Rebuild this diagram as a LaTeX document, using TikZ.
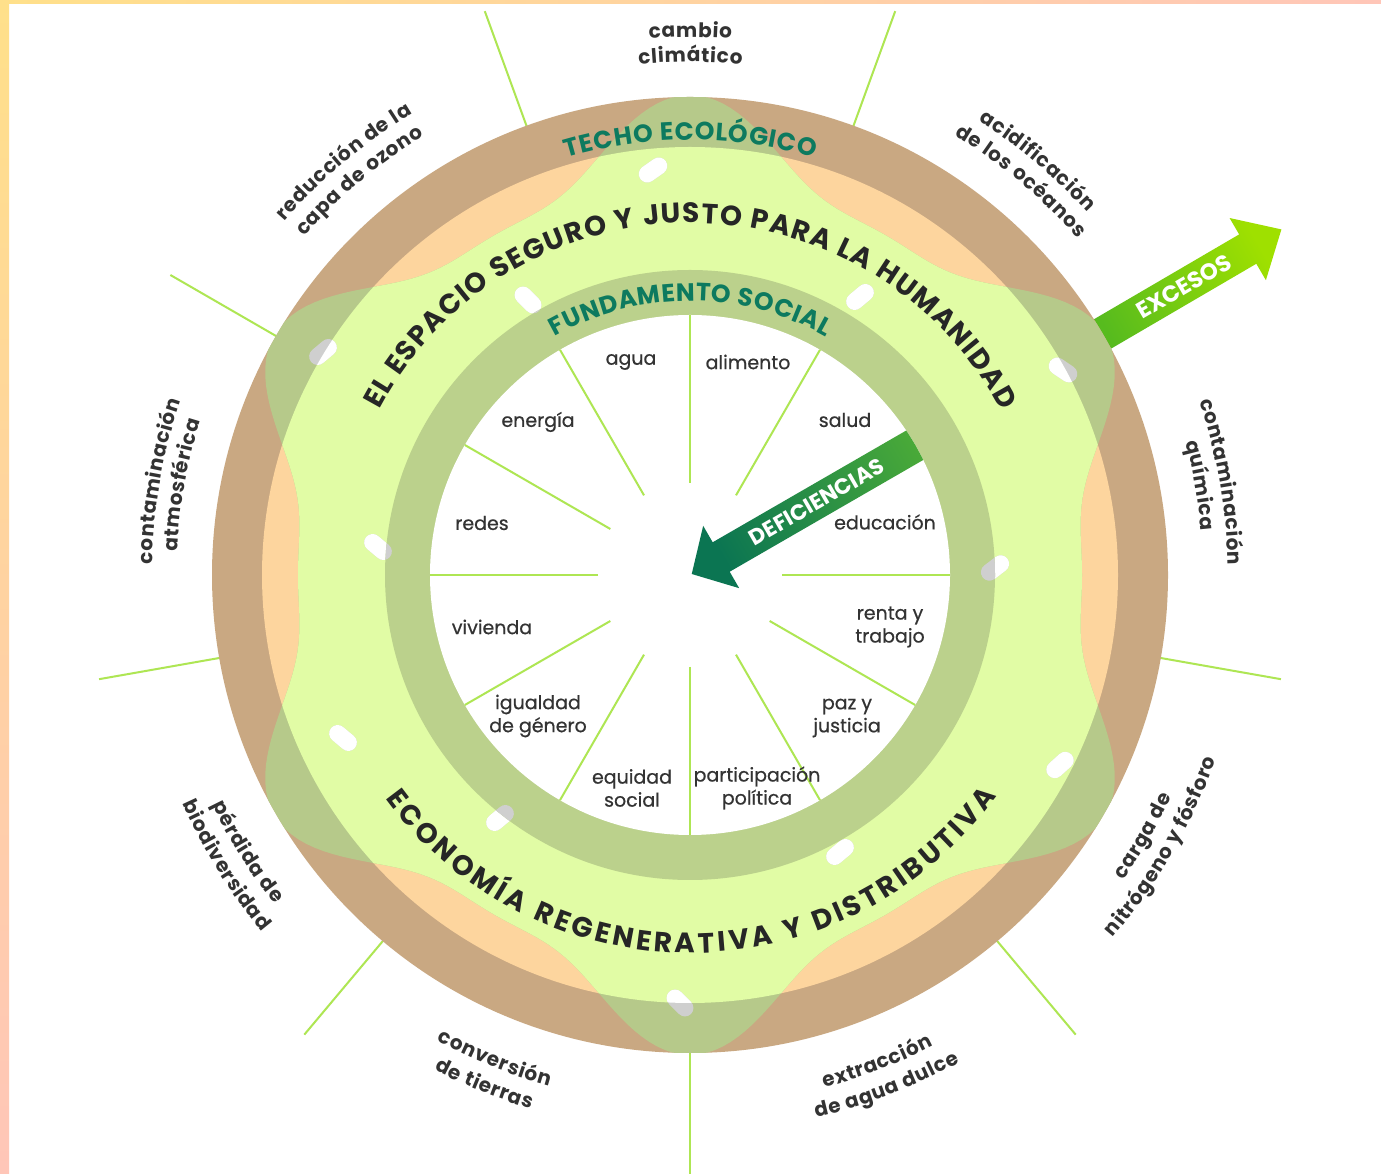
\documentclass[tikz,border=0pt]{standalone}
\usepackage{fontspec}
\setmainfont{Poppins}
\usetikzlibrary{decorations.text}
\definecolor{ringbrown}{HTML}{C9A882}
\definecolor{peach}{HTML}{FDD59E}
\definecolor{lgreen}{HTML}{E1FCA5}
\definecolor{olive}{HTML}{B6C98A}
\definecolor{ringgreen}{HTML}{BBD18C}
\definecolor{spoke}{HTML}{AEE653}
\definecolor{tealtxt}{HTML}{0D7A5F}
\definecolor{ink}{HTML}{333333}
\definecolor{inkdark}{HTML}{262626}
\definecolor{pillgray}{HTML}{CFCFCF}
\definecolor{excA}{HTML}{57BB1E}
\definecolor{excB}{HTML}{9FE000}
\definecolor{defA}{HTML}{0B7552}
\definecolor{defB}{HTML}{4AAA38}
\definecolor{frameY}{HTML}{FFE08A}
\definecolor{frameP}{HTML}{FFC6B8}

\newcommand\blobpath{plot[domain=0:360,samples=361,variable=\blobt] (\blobt:{392+88*((1+cos(6*(\blobt-30)))/2)^2}) -- cycle}
\newcommand\mypill[2]{\draw[line width=17, line cap=round] (#1) ++(#2:-7) -- ++(#2:14);}
\newcommand\mypills{%
\mypill{-37,405}{35}
\mypill{170,278}{40}
\mypill{373,205}{-34}
\mypill{305,7}{37}
\mypill{370,-190}{42}
\mypill{150,-277}{40}
\mypill{-10,-428}{-45}
\mypill{-190,-243}{40}
\mypill{-347,-163}{-40}
\mypill{-312,28}{-40}
\mypill{-367,223}{40}
\mypill{-162,275}{-45}}
\newcommand\arctext[6]{%
\path[decorate,decoration={text along path,text align=center,text color=#4,text={|#5|#6}}] (#2:#1) arc[start angle=#2,end angle=#3,radius=#1];}
\newcommand\outerfnt{\bfseries\fontsize{20}{24}\selectfont\kern0.7pt}
\newcommand\bigfnttop{\bfseries\fontsize{28}{28}\selectfont\kern1.4pt}
\newcommand\bigfntbot{\bfseries\fontsize{28}{28}\selectfont\kern3.3pt}
\newcommand\tealfnttop{\bfseries\fontsize{25}{25}\selectfont\kern0.8pt}
\newcommand\tealfntsoc{\bfseries\fontsize{25}{25}\selectfont\kern0.6pt}

\tikzset{
  outspoke/.style={draw=spoke, line width=2},
  inspoke/.style={draw=spoke, line width=2},
  inlabel/.style={text=ink, font=\fontsize{19}{23}\selectfont\addfontfeatures{FakeBold=0.6}, align=center, inner sep=0},
  exctext/.style={text=white, font=\bfseries\fontsize{23}{23}\selectfont, inner sep=0},
  deftext/.style={text=white, font=\bfseries\fontsize{22}{22}\selectfont, inner sep=0},
}

\begin{document}
\begin{tikzpicture}[x=1pt,y=1pt]
\useasboundingbox (0,0) rectangle (1381,1173);
\fill[white] (0,0) rectangle (1381,1173);
\shade[top color=frameY,bottom color=frameP] (0,0) rectangle (9,1173);
\shade[left color=frameY,right color=frameP] (0,1169) rectangle (1381,1173);
\begin{scope}[shift={(690,598)}]
  % outer spokes
  \foreach \a in {30,70,...,350} \draw[outspoke] (\a:476) -- (\a:600);
  % EXCESOS arrow
  \shade[top color=excA,bottom color=excB,shading angle=120,rotate=30.3]
    (465,-17) -- (646,-17) -- (646,-36) -- (685,0) -- (646,36) -- (646,17) -- (465,17) -- cycle;
  % rings and blob
  \fill[ringbrown] (0,0) circle (478);
  \fill[peach] (0,0) circle (428);
  \begin{scope}
    \clip \blobpath;
    \fill[olive] (0,0) circle (478);
    \fill[lgreen] (0,0) circle (428);
  \end{scope}
  \begin{scope}[color=pillgray]\mypills\end{scope}
  \begin{scope}
    \clip \blobpath;
    \clip (0,0) circle (428);
    \begin{scope}[color=white]\mypills\end{scope}
  \end{scope}
  \fill[ringgreen] (0,0) circle (305);
  \begin{scope}
    \clip (0,0) circle (305);
    \begin{scope}[color=pillgray]\mypills\end{scope}
  \end{scope}
  \fill[white] (0,0) circle (260);
  % inner spokes
  \foreach \a in {0,30,...,330} \draw[inspoke] (\a:92) -- (\a:260);
  % DEFICIENCIAS arrow
  \begin{scope}
    \clip (0,0) circle (260);
    \shade[top color=defA,bottom color=defB,shading angle=120,rotate=30]
      (2,0) -- (36,36) -- (36,17) -- (290,17) -- (290,-17) -- (36,-17) -- (36,-36) -- cycle;
  \end{scope}
  \node[exctext, rotate=30.3] (exc) at (30.3:572) {EXCESOS};
  \node[deftext, rotate=30] (def) at (30:146) {DEFICIENCIAS};
  % arc texts
  \arctext{352}{178}{2}{inkdark}{\bigfnttop}{EL ESPACIO SEGURO Y JUSTO PARA LA HUMANIDAD}
  \arctext{378}{190}{350}{inkdark}{\bigfntbot}{ECONOMÍA REGENERATIVA Y DISTRIBUTIVA}
  \arctext{435}{130}{50}{tealtxt}{\tealfnttop}{TECHO ECOLÓGICO}
  \arctext{274}{150}{30}{tealtxt}{\tealfntsoc}{FUNDAMENTO SOCIAL}
  % outer labels (top type)
  \arctext{538}{135}{45}{ink}{\outerfnt}{cambio}
  \arctext{513}{135}{45}{ink}{\outerfnt}{climático}
  \arctext{538}{95}{5}{ink}{\outerfnt}{acidificación}
  \arctext{513}{95}{5}{ink}{\outerfnt}{de los océanos}
  \arctext{538}{175}{85}{ink}{\outerfnt}{reducción de la}
  \arctext{513}{175}{85}{ink}{\outerfnt}{capa de ozono}
  \arctext{538}{215}{125}{ink}{\outerfnt}{contaminación}
  \arctext{513}{215}{125}{ink}{\outerfnt}{atmosférica}
  \arctext{538}{55}{-35}{ink}{\outerfnt}{contaminación}
  \arctext{513}{55}{-35}{ink}{\outerfnt}{química}
  % outer labels (bottom type)
  \arctext{530}{167}{257}{ink}{\outerfnt}{pérdida de}
  \arctext{557}{167}{257}{ink}{\outerfnt}{biodiversidad}
  \arctext{530}{203}{293}{ink}{\outerfnt}{conversión}
  \arctext{557}{203}{293}{ink}{\outerfnt}{de tierras}
  \arctext{530}{246}{336}{ink}{\outerfnt}{extracción}
  \arctext{557}{246}{336}{ink}{\outerfnt}{de agua dulce}
  \arctext{530}{285}{375}{ink}{\outerfnt}{carga de}
  \arctext{557}{285}{375}{ink}{\outerfnt}{nitrógeno y fósforo}
  % inner labels
  \node[inlabel] (agua) at (-59,213) {agua};
  \node[inlabel] (alimento) at (58,213) {alimento};
  \node[inlabel] (salud) at (155,155) {salud};
  \node[inlabel] (educacion) at (195,53) {educación};
  \node[inlabel] (renta) at (200,-52) {renta y\\trabajo};
  \node[inlabel] (paz) at (157,-143) {paz y\\justicia};
  \node[inlabel] (participacion) at (67,-213) {participación\\política};
  \node[inlabel] (equidad) at (-58,-213) {equidad\\social};
  \node[inlabel] (igualdad) at (-152,-141) {igualdad\\de género};
  \node[inlabel] (vivienda) at (-198,-52) {vivienda};
  \node[inlabel] (redes) at (-208,52) {redes};
  \node[inlabel] (energia) at (-152,153) {energía};
\end{scope}
\end{tikzpicture}
\end{document}
